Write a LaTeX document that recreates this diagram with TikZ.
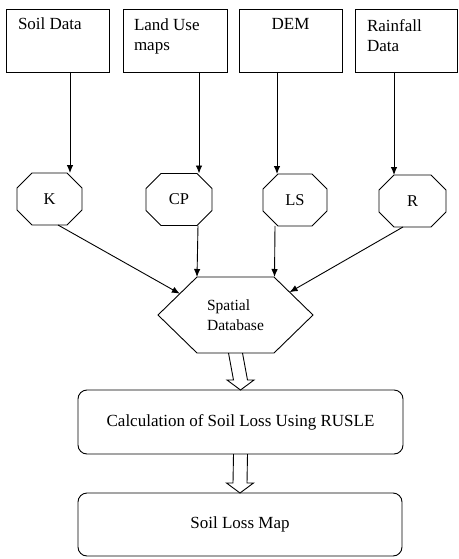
\documentclass[tikz,border=0pt]{standalone}
\usepackage{fontspec}
\setmainfont{Liberation Serif}
\usetikzlibrary{arrows.meta,calc}
\newcommand\octpath[1]{\draw[ln] ([xshift=15pt]#1.north west) -- ([xshift=-15pt]#1.north east) -- ([yshift=-15pt]#1.north east) -- ([yshift=15pt]#1.south east) -- ([xshift=-15pt]#1.south east) -- ([xshift=15pt]#1.south west) -- ([yshift=15pt]#1.south west) -- ([yshift=-15pt]#1.north west) -- cycle;}
\newcommand\hollowarrow[2]{\draw[ln] ([xshift=-7pt]#1.south) -- ([xshift=-7pt,yshift=10pt]#2.north) -- ([xshift=-13.5pt,yshift=10pt]#2.north) -- (#2.north) -- ([xshift=13.5pt,yshift=10pt]#2.north) -- ([xshift=7pt,yshift=10pt]#2.north) -- ([xshift=7pt]#1.south);}
\tikzset{
  ln/.style={line width=0.9pt, line join=miter},
  arr/.style={line width=0.9pt, -{Latex[length=8pt,width=6.5pt]}},
  topbox/.style={draw, line width=0.9pt, inner sep=0pt, outer sep=0pt, minimum width=103pt, minimum height=63pt},
  toptext/.style={inner sep=0pt, outer sep=0pt, align=left, font=\fontsize{17}{20}\selectfont},
  octbox/.style={inner sep=0pt, outer sep=0pt, minimum height=52pt, font=\fontsize{16.5}{20}\selectfont},
  roundbox/.style={draw, line width=0.9pt, rounded corners=9pt, inner sep=0pt, outer sep=0pt, minimum width=325pt, minimum height=64pt, font=\fontsize{17}{20}\selectfont}
}
\begin{document}
\begin{tikzpicture}[x=1pt,y=-1pt]
\useasboundingbox (0,0) rectangle (458,559);
% top boxes
\node[topbox] (soil) at (57.5,40.5) {};
\node[topbox, minimum width=104pt] (land) at (175,40.5) {};
\node[topbox] (dem) at (290.5,40.5) {};
\node[topbox, minimum width=102.5pt] (rain) at (406.25,40.5) {};
\node[toptext, anchor=base west] (tsoil) at (18,30) {Soil Data};
\node[toptext, anchor=north west] (tland) at (134,18.6) {Land Use\\maps};
\node[toptext, anchor=base] (tdem) at (290.5,30) {DEM};
\node[toptext, anchor=north west] (train) at (367,19.6) {Rainfall\\Data};
% octagons
\node[octbox, minimum width=65pt] (K) at (49.5,199) {K};
\node[octbox, minimum width=66pt] (CP) at (179,199.5) {CP};
\node[octbox, minimum width=64pt] (LS) at (295,200) {LS};
\node[octbox, minimum width=67pt] (R) at (412.5,201) {R};
\octpath{K}\octpath{CP}\octpath{LS}\octpath{R}
% spatial database hexagon
\node[inner sep=0pt, outer sep=0pt, minimum width=155pt, minimum height=76pt, align=left, font=\fontsize{15.5}{20}\selectfont] (db) at (235.5,315) {Spatial\\Database};
\draw[ln] (db.west) -- ([xshift=39pt]db.north west) -- ([xshift=-39pt]db.north east) -- (db.east) -- ([xshift=-39pt]db.south east) -- ([xshift=39pt]db.south west) -- cycle;
% lower boxes
\node[roundbox] (calc) at (240.5,422) {Calculation of Soil Loss Using RUSLE};
\node[roundbox, minimum width=324pt, minimum height=63pt] (map) at (240,524.5) {Soil Loss Map};
% connectors
\draw[arr] ([xshift=12.5pt]soil.south) -- ([xshift=20.5pt]K.north);
\draw[arr] ([xshift=24pt]land.south) -- ([xshift=20pt]CP.north);
\draw[arr] ([xshift=-13.5pt]dem.south) -- ([xshift=-18pt]LS.north);
\draw[arr] ([xshift=-12.25pt]rain.south) -- ([xshift=-18.5pt]R.north);
\draw[arr] ([xshift=8.5pt]K.south) -- ($(db.west)!0.56!([xshift=39pt]db.north west)$);
\draw[arr] ([xshift=19pt]CP.south) -- ([xshift=-38.5pt]db.north);
\draw[arr] ([xshift=-20pt]LS.south) -- ([xshift=39pt]db.north);
\draw[arr] ([xshift=-9.5pt]R.south) -- ($(db.east)!0.6!([xshift=-39pt]db.north east)$);
\hollowarrow{db}{calc}
\hollowarrow{calc}{map}
\end{tikzpicture}
\end{document}
